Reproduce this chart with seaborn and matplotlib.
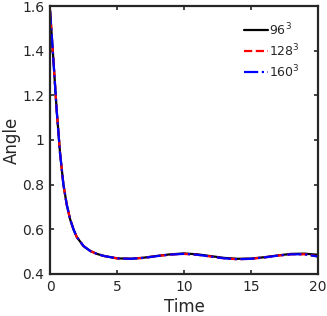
import numpy as np
import pandas as pd
import matplotlib
matplotlib.use("Agg")
import matplotlib.pyplot as plt
import seaborn as sns

# values
time = [0, 0.25, 0.5, 0.75, 1.0, 1.25, 1.5, 1.75, 2.0, 2.5, 3.0, 3.5, 4.0,
        5, 6, 7, 8, 9, 10, 11, 12, 13, 14, 15, 16, 17, 18, 19, 20]
angle_96 = [1.58, 1.36, 1.13, 0.94, 0.80, 0.71, 0.645, 0.60, 0.565, 0.525, 0.503,
            0.490, 0.481, 0.470, 0.468, 0.473, 0.481, 0.488, 0.492, 0.488, 0.480,
            0.472, 0.468, 0.469, 0.475, 0.483, 0.490, 0.491, 0.486]
angle_128 = [1.58, 1.36, 1.13, 0.94, 0.80, 0.71, 0.645, 0.60, 0.565, 0.525, 0.503,
             0.490, 0.481, 0.470, 0.468, 0.472, 0.480, 0.487, 0.490, 0.486, 0.478,
             0.470, 0.466, 0.468, 0.474, 0.482, 0.488, 0.488, 0.479]
angle_160 = [1.58, 1.36, 1.13, 0.94, 0.80, 0.71, 0.645, 0.60, 0.565, 0.525, 0.503,
             0.490, 0.481, 0.470, 0.468, 0.472, 0.480, 0.487, 0.490, 0.486, 0.478,
             0.470, 0.466, 0.468, 0.474, 0.482, 0.488, 0.488, 0.478]
labels = [r"$96^3$", r"$128^3$", r"$160^3$"]

sns.set_style("ticks")
plt.rcParams['font.family'] = ['DejaVu Sans']

fig = plt.figure(figsize=(3.27, 3.16), dpi=100)
ax = fig.add_axes([0.153, 0.133, 0.819, 0.848])

series = [angle_96, angle_128, angle_160]
colors = ['black', 'red', 'blue']
styles = ['-', '--', '-.']
for vals, lab, c, ls in zip(series, labels, colors, styles):
    df = pd.DataFrame({'Time': time, 'Angle': vals})
    sns.lineplot(data=df, x='Time', y='Angle', color=c, linestyle=ls,
                 linewidth=1.6, label=lab, ax=ax)

ax.set_xlim(0, 20)
ax.set_ylim(0.4, 1.6)
ax.set_xticks([0, 5, 10, 15, 20])
ax.set_yticks([0.4, 0.6, 0.8, 1.0, 1.2, 1.4, 1.6])
ax.set_yticklabels(['0.4', '0.6', '0.8', '1', '1.2', '1.4', '1.6'])
ax.tick_params(direction='in', length=3, width=1.2, top=True, right=True,
               labelsize=10, labelcolor='#262626', pad=4)
for sp in ax.spines.values():
    sp.set_linewidth(1.6)
    sp.set_color('#262626')
ax.set_xlabel('Time', fontsize=12, color='#262626', labelpad=3)
ax.set_ylabel('Angle', fontsize=12, color='#262626', labelpad=1)

leg = ax.legend(loc='upper right', frameon=False, fontsize=9,
                handlelength=1.9, handletextpad=0.1, labelspacing=0.35,
                bbox_to_anchor=(0.975, 0.985))

plt.savefig('out.png', dpi=100)
